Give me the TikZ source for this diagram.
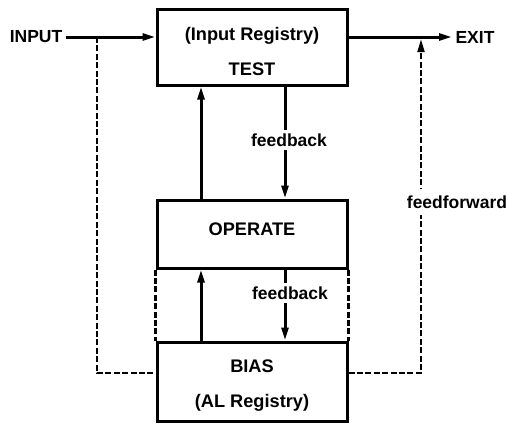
\documentclass[tikz,border=0pt]{standalone}
\usepackage{fontspec}
\setmainfont{Liberation Sans}
\usetikzlibrary{arrows.meta,positioning}

\begin{document}
\begin{tikzpicture}[x=0.5pt,y=-0.5pt,
  blk/.style={rectangle,draw,line width=1.5pt,minimum width=95pt,
              align=center,font=\fontsize{9.1}{17.5}\selectfont\bfseries},
  txt/.style={inner sep=1.5pt,font=\fontsize{8.75}{10}\selectfont\bfseries},
  arr/.style={-{Triangle[length=6.5pt,width=3.4pt]},line width=1.5pt},
  dsh/.style={line width=1.2pt,dash pattern=on 3pt off 1.2pt},
  dsharr/.style={dsh,-{Triangle[length=6.5pt,width=3.4pt]}}]
\useasboundingbox (0,0) rectangle (508,423);
\node[blk,minimum height=38pt] (test) at (252,47) {\rule{0pt}{11.4pt}(Input Registry)\\TEST};
\node[blk,minimum height=34pt,text depth=5pt] (operate) at (252,234) {OPERATE};
\node[blk,minimum height=39.5pt] (bias) at (252,381.5) {\rule{0pt}{10.5pt}BIAS\\(AL Registry)};
\node[txt] (inp) at (36,37) {INPUT};
\node[txt] (exit) at (475,37) {EXIT};
\coordinate (split) at (97,37);
\coordinate (join) at (421,39);
\coordinate (bin) at (0,373);
\coordinate (upx) at (201,0);
\coordinate (dnx) at (285,0);
% main line
\draw[arr] (inp) -- (inp -| test.west);
\draw[arr] (test.east |- exit) -- (exit);
% test <-> operate <-> bias
\draw[arr] (operate.north -| upx) -- (test.south -| upx);
\draw[arr] (test.south -| dnx) -- (operate.north -| dnx);
\draw[arr] (bias.north -| upx) -- (operate.south -| upx);
\draw[arr] (operate.south -| dnx) -- (bias.north -| dnx);
\node[txt,fill=white,inner ysep=2pt] (fb1) at (289,140) {feedback};
\node[txt,fill=white,inner ysep=2pt] (fb2) at (290,293) {feedback};
% dashed links
\draw[dsh] (operate.south west) -- (operate.south west |- bias.north);
\draw[dsh] (operate.south east) -- (operate.south east |- bias.north);
\draw[dsh] (split) |- (bias.west |- bin);
\draw[dsharr] (bias.east |- bin) -| (join);
\node[txt,fill=white,inner ysep=3.5pt] (fflab) at (457,202) {feedforward};
\end{tikzpicture}
\end{document}
